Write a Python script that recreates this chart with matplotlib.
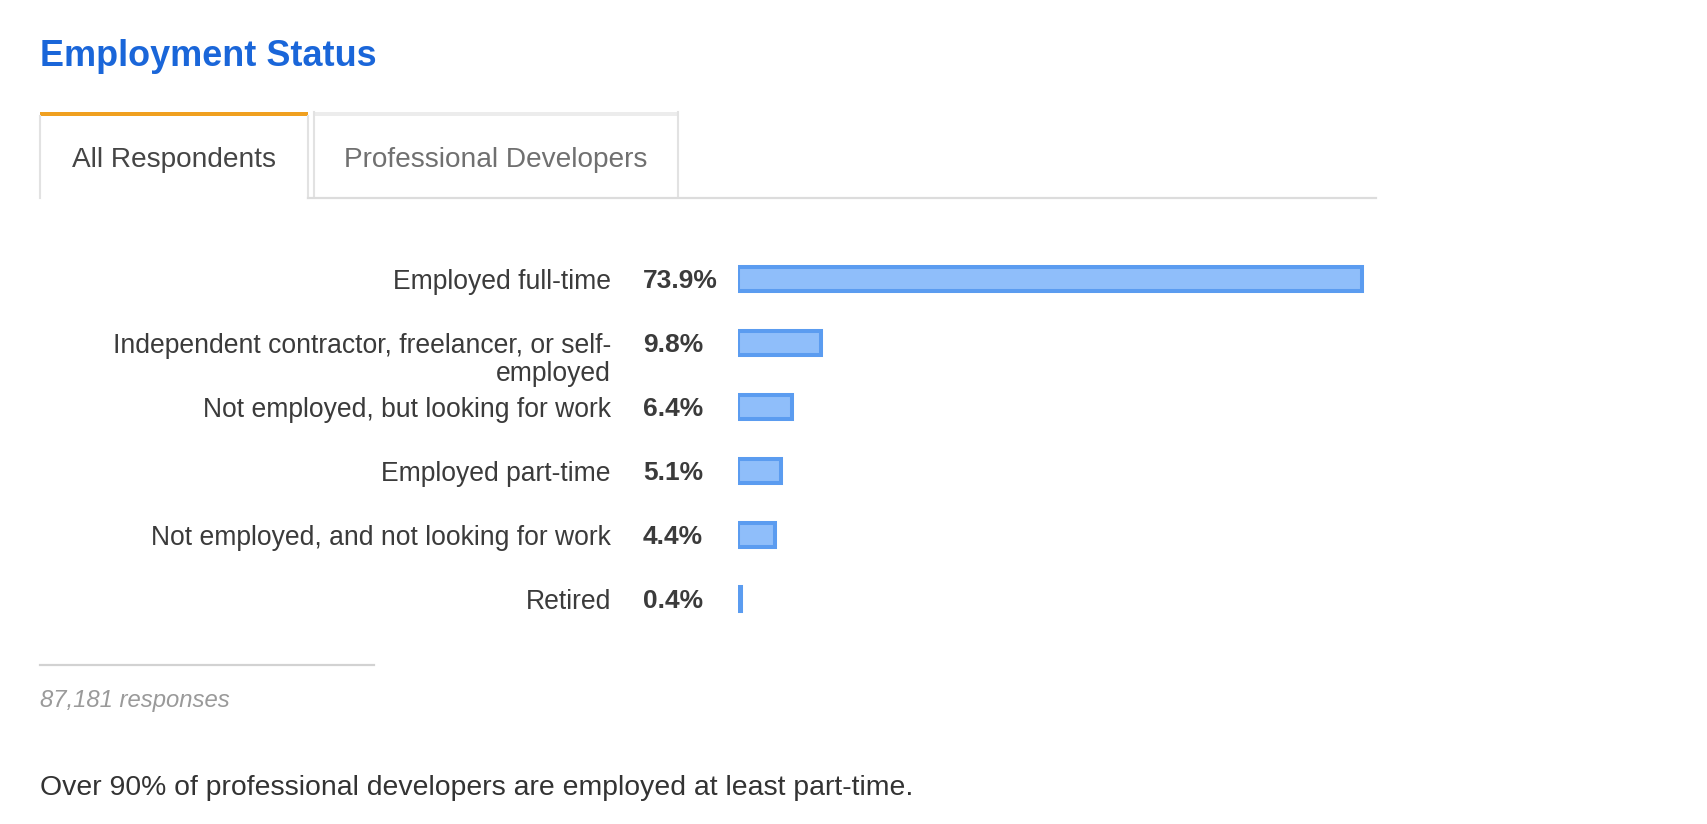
import matplotlib
matplotlib.use("Agg")
import matplotlib.pyplot as plt
from matplotlib.patches import Rectangle
from matplotlib.transforms import blended_transform_factory, ScaledTranslation

# ---- data ----
categories = [
    "Employed full-time",
    "Independent contractor, freelancer, or self-\nemployed",
    "Not employed, but looking for work",
    "Employed part-time",
    "Not employed, and not looking for work",
    "Retired",
]
values = [73.9, 9.8, 6.4, 5.1, 4.4, 0.4]
value_labels = ["73.9%", "9.8%", "6.4%", "5.1%", "4.4%", "0.4%"]
title = "Employment Status"
tabs = ["All Respondents", "Professional Developers"]
responses_note = "87,181 responses"
footer = "Over 90% of professional developers are employed at least part-time."

plt.rcParams["font.family"] = ["Liberation Sans", "DejaVu Sans"]

W, H = 1708, 824
fig = plt.figure(figsize=(W / 100, H / 100), dpi=100)
fig.patch.set_facecolor("white")

# decoration axes in pixel coordinates
deco = fig.add_axes([0, 0, 1, 1])
deco.set_xlim(0, W)
deco.set_ylim(H, 0)
deco.axis("off")

# title
deco.text(40, 66, title, fontsize=25.9, fontweight="bold", color="#1a66d9",
          ha="left", va="baseline")

# tabs
gray_border = "#e2e2e2"
# active tab
deco.add_patch(Rectangle((40, 112), 268, 4, facecolor="#f0a020", edgecolor="none"))
deco.plot([40.5, 40.5], [116, 198], color=gray_border, lw=1.5)
deco.plot([308, 308], [116, 198], color=gray_border, lw=1.5)
# inactive tab
deco.add_patch(Rectangle((314, 112), 364, 4, facecolor="#ececec", edgecolor="none"))
deco.plot([314.5, 314.5], [112, 197], color=gray_border, lw=1.5)
deco.plot([678, 678], [112, 197], color=gray_border, lw=1.5)
# baseline of tabs
deco.plot([308, 1376], [197.5, 197.5], color="#dcdcdc", lw=1.6)

deco.text(174, 160, tabs[0], fontsize=20.2, color="#454545", ha="center", va="center")
deco.text(496, 160, tabs[1], fontsize=20.2, color="#707070", ha="center", va="center")

# bar axes
row_h = 64
top_px = 279 - row_h / 2
n = len(categories)
px_per_pct = 8.45
ax_left = 738
ax = fig.add_axes([ax_left / W, 1 - (top_px + n * row_h) / H,
                   100 * px_per_pct / W, n * row_h / H])
ax.set_xlim(0, 100)
ax.set_ylim(n - 0.5, -0.5)
ax.axis("off")

ypos = list(range(n))
ax.barh(ypos, values, height=24 / row_h, color="#8fbefa", edgecolor="#5b9cf0",
        linewidth=2.9)

trans = blended_transform_factory(deco.transData, ax.transData)
lab_trans = trans + ScaledTranslation(0, 7.2 / 72, fig.dpi_scale_trans)
for y, lab, vl in zip(ypos, categories, value_labels):
    ax.text(611, y, lab, transform=lab_trans, ha="right", va="top",
            fontsize=19.1, color="#3b3b3b", linespacing=1.12, multialignment="right")
    ax.text(643, y, vl, transform=trans, ha="left", va="center_baseline",
            fontsize=19.0, fontweight="bold", color="#3b3b3b")

# divider and notes
deco.plot([40, 374], [664.5, 664.5], color="#d2d2d2", lw=1.6)
deco.text(40, 700, responses_note, fontsize=17.2, style="italic", color="#9a9a9a",
          ha="left", va="center")
deco.text(40, 788, footer, fontsize=20.4, color="#333333", ha="left", va="center")

fig.savefig("out.png", dpi=100, facecolor="white")
